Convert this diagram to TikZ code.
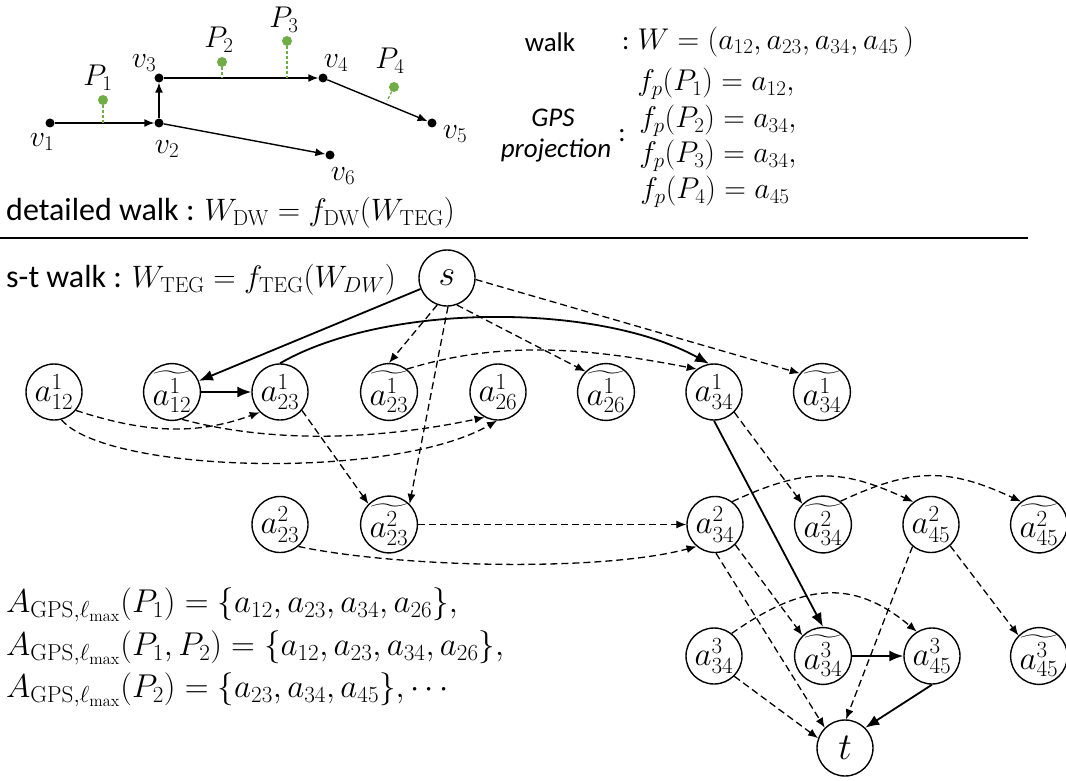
\RequirePackage{fix-cm}
\documentclass[tikz,border=0pt]{standalone}
\usepackage{amsmath}
\usepackage[no-math]{fontspec}
\setmainfont{Carlito}
\usetikzlibrary{arrows.meta}
\definecolor{gpsgreen}{RGB}{112,173,71}
\newcommand{\tw}[1]{\widetilde{#1}}
\newcommand{\msz}{\fontsize{31}{37}\selectfont}
\begin{document}
\begin{tikzpicture}[x=1pt,y=1pt]
\tikzset{
  st/.style={circle, draw, line width=1.4pt, minimum size=56pt, inner sep=0pt, font=\fontsize{33}{37}\selectfont},
  sarr/.style={line width=1.8pt, -{Latex[length=14pt,width=11pt]}},
  darr/.style={line width=1.3pt, dash pattern=on 7pt off 4pt, -{Latex[length=10pt,width=8pt]}},
  varr/.style={line width=1.4pt, -{Latex[length=10pt,width=8pt]}},
  vdot/.style={circle, fill=black, inner sep=0pt, minimum size=9pt},
  gdot/.style={circle, fill=gpsgreen, inner sep=0pt, minimum size=10pt},
  gstem/.style={gpsgreen, line width=1.3pt, dash pattern=on 3pt off 2pt},
  lbl/.style={font=\fontsize{30}{34}\selectfont, inner sep=0pt},
  txt/.style={font=\fontsize{32}{38}\selectfont, inner sep=0pt},
  small/.style={font=\fontsize{27}{31}\selectfont, inner sep=0pt},
}
\useasboundingbox (0,0) rectangle (1066,-781);

% ---------- top road graph ----------
\node[vdot] (v1) at (50,-123) {};
\node[vdot] (v2) at (159,-123) {};
\node[vdot] (v3) at (159,-78) {};
\node[vdot] (v4) at (323,-78) {};
\node[vdot] (v5) at (432,-123) {};
\node[vdot] (v6) at (330,-155) {};
\draw[varr] (v1) -- (v2);
\draw[varr] (v2) -- (v3);
\draw[varr] (v3) -- (v4);
\draw[varr] (v4) -- (v5);
\draw[varr] (v2) -- (v6);
\node[lbl] (lv1) at (42,-142) {$v_1$};
\node[lbl] (lv2) at (167,-149) {$v_2$};
\node[lbl] (lv3) at (144,-63) {$v_3$};
\node[lbl] (lv4) at (336,-63) {$v_4$};
\node[lbl] (lv5) at (455,-134) {$v_5$};
\node[lbl] (lv6) at (343,-176) {$v_6$};

\node[gdot] (g1) at (103,-100) {};
\node[gdot] (g2) at (222,-62) {};
\node[gdot] (g3) at (287,-41) {};
\node[gdot] (g4) at (394,-87) {};
\coordinate (e1) at (103,-123);
\coordinate (e2) at (222,-78);
\coordinate (e3) at (287,-78);
\coordinate (e4) at (387,-101);
\draw[gstem] (g1) -- (e1);
\draw[gstem] (g2) -- (e2);
\draw[gstem] (g3) -- (e3);
\draw[gstem] (g4) -- (e4);
\node[lbl] (lp1) at (98,-78) {$P_1$};
\node[lbl] (lp2) at (219,-40) {$P_2$};
\node[lbl] (lp3) at (284,-20) {$P_3$};
\node[lbl] (lp4) at (390,-61) {$P_4$};

\node[txt, anchor=west] (dw) at (6,-213) {detailed walk : {\msz$W_{\mathrm{DW}} = f_{\mathrm{DW}}(W_{\mathrm{TEG}})$}};

% ---------- top right text ----------
\node[small] (walk) at (550,-42) {walk};
\node[small, anchor=west] (weq) at (622,-42) {: {\fontsize{30}{34}\selectfont$W = (a_{12}, a_{23}, a_{34}, a_{45}\,)$}};
\node[small] (gps) at (553,-118) {\itshape GPS};
\node[small] (proj) at (556,-150) {\itshape projection};
\node[small] (col2) at (622,-136) {:};
\node[lbl] (fp1) at (716,-84) {$f_p(P_1) = a_{12},$};
\node[lbl] (fp2) at (718,-121) {$f_p(P_2) = a_{34},$};
\node[lbl] (fp3) at (718,-156) {$f_p(P_3) = a_{34},$};
\node[lbl] (fp4) at (715,-192) {$f_p(P_4) = a_{45}$};

% ---------- separator ----------
\coordinate (rl) at (0,-238);
\coordinate (rr) at (1028,-238);
\draw[line width=1.6pt] (rl) -- (rr);

\node[txt, anchor=west] (stw) at (6,-280) {s-t walk : {\msz$W_{\mathrm{TEG}} = f_{\mathrm{TEG}}(W_{DW})$}};

% ---------- TEG nodes ----------
\node[st, font=\fontsize{36}{40}\selectfont] (s) at (447,-278) {$s$};
\node[st, font=\fontsize{38}{42}\selectfont] (t) at (845,-748) {$t$};

\node[st] (a121) at (54,-392) {$a_{12}^{1}$};
\node[st] (ta121) at (172,-392) {$\tw{a_{12}^{1}}$};
\node[st] (a231) at (280,-392) {$a_{23}^{1}$};
\node[st] (ta231) at (389,-392) {$\tw{a_{23}^{1}}$};
\node[st] (a261) at (498,-392) {$a_{26}^{1}$};
\node[st] (ta261) at (606,-392) {$\tw{a_{26}^{1}}$};
\node[st] (a341) at (714,-392) {$a_{34}^{1}$};
\node[st] (ta341) at (822,-392) {$\tw{a_{34}^{1}}$};

\node[st] (a232) at (280,-524.5) {$a_{23}^{2}$};
\node[st] (ta232) at (389,-524.5) {$\tw{a_{23}^{2}}$};
\node[st] (a342) at (715,-524.5) {$a_{34}^{2}$};
\node[st] (ta342) at (823,-524.5) {$\tw{a_{34}^{2}}$};
\node[st] (a452) at (931,-524.5) {$a_{45}^{2}$};
\node[st] (ta452) at (1039,-524.5) {$\tw{a_{45}^{2}}$};

\node[st] (a343) at (714,-656) {$a_{34}^{3}$};
\node[st] (ta343) at (823,-656) {$\tw{a_{34}^{3}}$};
\node[st] (a453) at (932,-656) {$a_{45}^{3}$};
\node[st] (ta453) at (1039,-656) {$\tw{a_{45}^{3}}$};

% ---------- solid edges ----------
\draw[sarr] (s) -- (ta121);
\draw[sarr] (ta121) -- (a231);
\draw[sarr] (a231.north) .. controls +(30:122) and +(151:126) .. (a341.100);
\draw[sarr] (a341.south) -- (ta343.north);
\draw[sarr] (ta343) -- (a453);
\draw[sarr] (a453.south) -- (t.45);

% ---------- dashed edges ----------
\draw[darr] (s.-110) -- (ta231.north);
\draw[darr] (s.-70) -- (ta261.135);
\draw[darr] (s.-88) -- (ta232.45);
\draw[darr] (s.-3) -- (ta341.140);
\draw[darr] (ta231.52) .. controls +(17:100) and +(169:110) .. (a341.127);
\draw[darr] (a121.-40) .. controls +(-18:70) and +(-160:70) .. (a231.-135);
\draw[darr] (ta121.-70) .. controls +(-15:100) and +(-168:100) .. (a261.-118);
\draw[darr] (a121.-75) .. controls +(-50:70) and +(-150:120) .. (a261.-92);
\draw[darr] (a231.-40) -- (ta232.135);
\draw[darr] (ta232) -- (a342);
\draw[darr] (a232.-50) .. controls +(-12:100) and +(-165:100) .. (a342.-130);
\draw[darr] (a341.-45) -- (ta342.135);
\draw[darr] (a342.53) .. controls +(25:80) and +(155:80) .. (a452.128);
\draw[darr] (ta342.53) .. controls +(25:80) and +(155:80) .. (ta452.128);
\draw[darr] (a342.-45) -- (ta343.135);
\draw[darr] (a342.-88) -- (t.135);
\draw[darr] (a452.-130) -- (t.88);
\draw[darr] (a452.-48) -- (ta453.135);
\draw[darr] (a343.52) .. controls +(35:85) and +(140:85) .. (a453.122);
\draw[darr] (a343.-45) -- (t.160);

% ---------- bottom formulas ----------
\node[anchor=west, inner sep=0pt, font=\fontsize{33}{38}\selectfont] (f1) at (6,-605) {$A_{\mathrm{GPS},\ell_{\max}}(P_1) = \{a_{12}, a_{23}, a_{34}, a_{26}\},$};
\node[anchor=west, inner sep=0pt, font=\fontsize{33}{38}\selectfont] (f2) at (6,-648) {$A_{\mathrm{GPS},\ell_{\max}}(P_1, P_2) = \{a_{12}, a_{23}, a_{34}, a_{26}\},$};
\node[anchor=west, inner sep=0pt, font=\fontsize{33}{38}\selectfont] (f3) at (6,-690) {$A_{\mathrm{GPS},\ell_{\max}}(P_2) = \{a_{23}, a_{34}, a_{45}\}, \cdots$};
\end{tikzpicture}
\end{document}
